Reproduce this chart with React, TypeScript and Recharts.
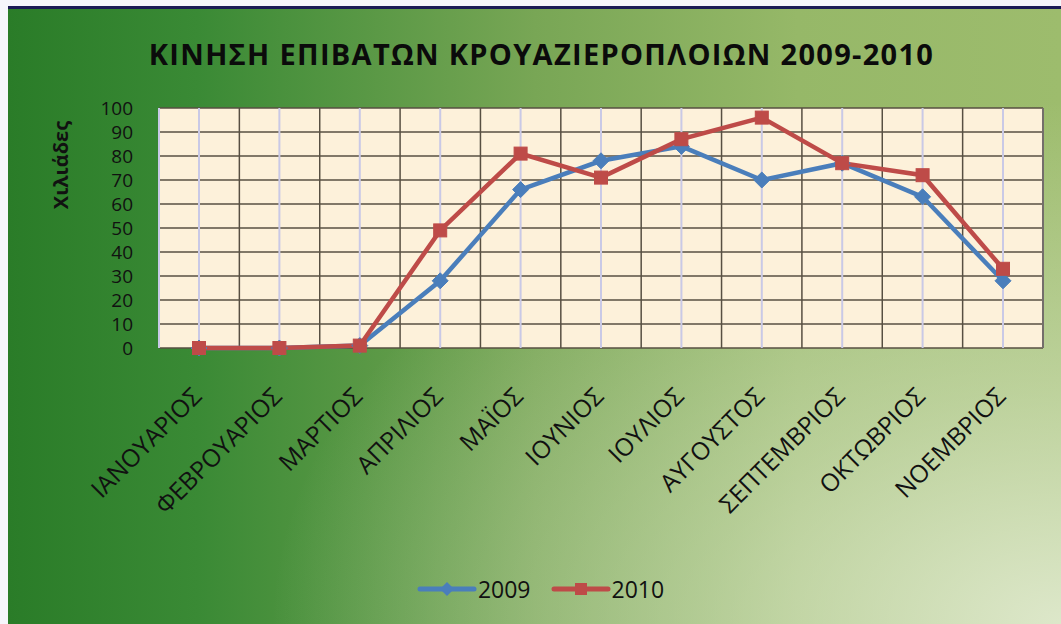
import { LineChart, Line, XAxis, YAxis, CartesianGrid, Legend } from 'recharts'

const months = [
  'ΙΑΝΟΥΑΡΙΟΣ',
  'ΦΕΒΡΟΥΑΡΙΟΣ',
  'ΜΑΡΤΙΟΣ',
  'ΑΠΡΙΛΙΟΣ',
  'ΜΑΪΟΣ',
  'ΙΟΥΝΙΟΣ',
  'ΙΟΥΛΙΟΣ',
  'ΑΥΓΟΥΣΤΟΣ',
  'ΣΕΠΤΕΜΒΡΙΟΣ',
  'ΟΚΤΩΒΡΙΟΣ',
  'ΝΟΕΜΒΡΙΟΣ',
]
const values2009 = [0, 0, 1, 28, 66, 78, 84, 70, 77, 63, 28]
const values2010 = [0, 0, 1, 49, 81, 71, 87, 96, 77, 72, 33]
const yTicks = [0, 10, 20, 30, 40, 50, 60, 70, 80, 90, 100]

const data = months.map((m, i) => ({ month: m, y2009: values2009[i], y2010: values2010[i] }))

const FONT = "'Open Sans', 'DejaVu Sans', sans-serif"
const BLUE = '#4a7ebb'
const RED = '#be4b48'

function diamondPath(cx: number, cy: number, r: number) {
  return `M${cx},${cy - r}L${cx + r},${cy}L${cx},${cy + r}L${cx - r},${cy}Z`
}

const DiamondDot = (p: any) => (
  <path key={`d-${p.index}`} d={diamondPath(p.cx, p.cy, 8)} fill={BLUE} stroke={BLUE} strokeWidth={1} />
)

const SquareDot = (p: any) => (
  <rect key={`s-${p.index}`} x={p.cx - 6.5} y={p.cy - 6.5} width={13} height={13} fill={RED} stroke={RED} strokeWidth={1} />
)

const MonthTick = ({ x, y, payload }: any) => (
  <g transform={`translate(${x},${y})`}>
    <text
      x={0}
      y={0}
      textAnchor="end"
      transform="translate(4,50) rotate(-45)"
      fontFamily={FONT}
      fontSize={24.5}
      fill="#111"
    >
      {payload.value}
    </text>
  </g>
)

const YLabel = ({ viewBox }: any) => {
  const cx = viewBox.x + 60
  const cy = viewBox.y + 57
  return (
    <text
      x={cx}
      y={cy}
      textAnchor="middle"
      dominantBaseline="central"
      transform={`rotate(-90,${cx},${cy})`}
      fontFamily={FONT}
      fontWeight="bold"
      fontSize={20}
      fill="#111"
    >
      Χιλιάδες
    </text>
  )
}

const renderLegend = ({ payload }: any) => (
  <div style={{ display: 'flex', justifyContent: 'center', alignItems: 'center', height: 30, paddingLeft: 40 }}>
    {payload.map((entry: any) => (
      <div key={entry.value} style={{ display: 'flex', alignItems: 'center', marginRight: 20 }}>
        <svg width={60} height={20}>
          <line x1={3} y1={10} x2={57} y2={10} stroke={entry.color} strokeWidth={5} strokeLinecap="round" />
          {entry.dataKey === 'y2009' ? (
            <path d={diamondPath(30, 10, 7)} fill={entry.color} />
          ) : (
            <rect x={24} y={4} width={12} height={12} fill={entry.color} />
          )}
        </svg>
        <span style={{ fontFamily: FONT, fontSize: 23, color: '#111', marginLeft: 1 }}>{entry.value}</span>
      </div>
    ))}
  </div>
)

export default function App() {
  return (
    <div style={{ position: 'absolute', left: 0, top: 0, width: 1061, height: 624, background: '#f6f6fb' }}>
      <div
        style={{
          position: 'absolute',
          left: 8,
          top: 6,
          right: 0,
          bottom: 0,
          borderTop: '3px solid #1b1b55',
          background:
            'radial-gradient(ellipse 75% 85% at 100% 100%, rgba(228,236,212,0.9) 0%, rgba(228,236,212,0.45) 45%, rgba(228,236,212,0) 100%), linear-gradient(90deg, #2a7c28 0%, #3a8a35 18%, #78a655 50%, #96b868 75%, #9dbc6d 100%)',
        }}
      />
      <div
        style={{
          position: 'absolute',
          left: 22,
          width: 1039,
          top: 34,
          textAlign: 'center',
          fontFamily: FONT,
          fontWeight: 'bold',
          fontSize: 29,
          letterSpacing: 1.3,
          color: '#0b0b0b',
          whiteSpace: 'nowrap',
        }}
      >
        ΚΙΝΗΣΗ ΕΠΙΒΑΤΩΝ ΚΡΟΥΑΖΙΕΡΟΠΛΟΙΩΝ 2009-2010
      </div>
      <div style={{ position: 'absolute', left: 0, top: 0 }}>
        <LineChart width={1061} height={624} data={data} margin={{ top: 108, right: 18, left: 0, bottom: 46 }}>
          <CartesianGrid horizontal vertical={false} stroke="#574f42" strokeWidth={1.5} fill="#fdf1da" fillOpacity={1} />
          <CartesianGrid horizontal={false} vertical stroke="#c9c9e6" strokeWidth={2} />
          <CartesianGrid
            horizontal={false}
            vertical
            stroke="#574f42"
            strokeWidth={1.5}
            verticalCoordinatesGenerator={({ offset }: any) =>
              months.map((_, i) => offset.left + ((i + 1) * offset.width) / months.length)
            }
          />
          <XAxis
            dataKey="month"
            interval={0}
            padding={{ left: 40, right: 40 }}
            axisLine={false}
            tickLine={false}
            tickSize={0}
            tickMargin={0}
            height={200}
            tick={<MonthTick />}
          />
          <YAxis
            domain={[0, 100]}
            ticks={yTicks}
            interval={0}
            axisLine={false}
            tickLine={false}
            tickSize={0}
            tickMargin={26}
            width={159}
            tick={{ fontFamily: FONT, fontSize: 19, fill: '#111' }}
            label={<YLabel />}
          />
          <Legend
            verticalAlign="bottom"
            content={renderLegend}
            wrapperStyle={{ left: 0, width: 1061, bottom: 20 }}
          />
          <Line
            type="linear"
            dataKey="y2009"
            name="2009"
            stroke={BLUE}
            strokeWidth={4.5}
            dot={DiamondDot}
            activeDot={false}
            isAnimationActive={false}
          />
          <Line
            type="linear"
            dataKey="y2010"
            name="2010"
            stroke={RED}
            strokeWidth={4.5}
            dot={SquareDot}
            activeDot={false}
            isAnimationActive={false}
          />
        </LineChart>
      </div>
    </div>
  )
}
